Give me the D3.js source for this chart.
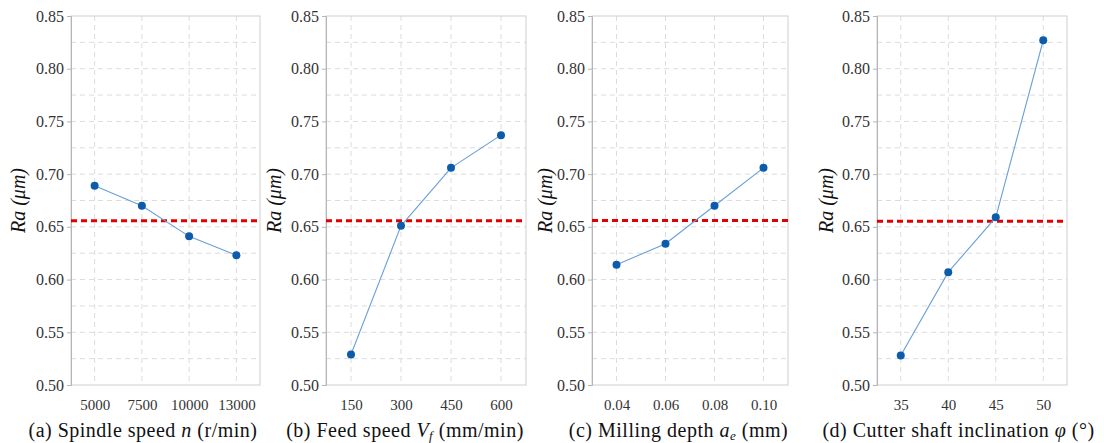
<!DOCTYPE html>
<html>
<head>
<meta charset="utf-8">
<script src="https://cdn.jsdelivr.net/npm/d3@7"></script>
<style>
  html, body { margin: 0; padding: 0; background: #fff; }
  svg text { font-family: "Liberation Serif", Tinos, "Times New Roman", Times, "DejaVu Serif", "Noto Serif", serif !important; }
</style>
</head>
<body>
<svg id="chart" width="1104" height="443"></svg>
<script>
// ---- data ----
const spindleLevels = ["5000", "7500", "10000", "13000"];
const spindleRa = [0.689, 0.670, 0.641, 0.623];

const feedLevels = ["150", "300", "450", "600"];
const feedRa = [0.529, 0.651, 0.706, 0.737];

const depthLevels = ["0.04", "0.06", "0.08", "0.10"];
const depthRa = [0.614, 0.634, 0.670, 0.706];

const inclinationLevels = ["35", "40", "45", "50"];
const inclinationRa = [0.528, 0.607, 0.659, 0.827];

const yTickValues = [0.50, 0.55, 0.60, 0.65, 0.70, 0.75, 0.80, 0.85];
const yGridValues = [0.50, 0.525, 0.55, 0.575, 0.60, 0.625, 0.65, 0.675, 0.70, 0.725, 0.75, 0.775, 0.80, 0.825, 0.85];

const panels = [
  { levels: spindleLevels, values: spindleRa, left: 71, right: 260, labelX: 18, capX: 143,
    caption: [["(a) Spindle speed ", ""], ["n", "i"], [" (r/min)", ""]] },
  { levels: feedLevels, values: feedRa, left: 326, right: 526, labelX: 274, capX: 405,
    caption: [["(b) Feed speed ", ""], ["V", "i"], ["f", "sub"], [" (mm/min)", "after"]] },
  { levels: depthLevels, values: depthRa, left: 592, right: 788, labelX: 545, capX: 678.5,
    caption: [["(c) Milling depth ", ""], ["a", "i"], ["e", "sub"], [" (mm)", "after"]] },
  { levels: inclinationLevels, values: inclinationRa, left: 877, right: 1067, labelX: 826, capX: 958.5,
    caption: [["(d) Cutter shaft inclination ", ""], ["φ", "i"], [" (°)", ""]] }
];

const plotTop = 16, plotBottom = 385;
const svg = d3.select("#chart");

panels.forEach(p => {
  const x = d3.scalePoint().domain(p.levels).range([p.left, p.right]).padding(0.5);
  const y = d3.scaleLinear().domain([0.50, 0.85]).range([plotBottom, plotTop]);
  const g = svg.append("g");

  // horizontal grid
  g.append("g").selectAll("line").data(yGridValues.slice(1, -1)).join("line")
    .attr("x1", p.left).attr("x2", p.right)
    .attr("y1", d => y(d)).attr("y2", d => y(d))
    .attr("stroke", "#dcdcdc").attr("stroke-width", 1).attr("stroke-dasharray", "5,4");
  // vertical grid
  g.append("g").selectAll("line").data(p.levels).join("line")
    .attr("x1", d => x(d)).attr("x2", d => x(d))
    .attr("y1", plotTop).attr("y2", plotBottom)
    .attr("stroke", "#dcdcdc").attr("stroke-width", 1).attr("stroke-dasharray", "5,4");

  // frame
  g.append("rect").attr("x", p.left).attr("y", plotTop)
    .attr("width", p.right - p.left).attr("height", plotBottom - plotTop)
    .attr("fill", "none").attr("stroke", "#cfcfcf").attr("stroke-width", 1);

  // y axis
  const yAxis = d3.axisLeft(y).tickValues(yTickValues).tickFormat(d3.format(".2f")).tickSize(4).tickPadding(3);
  const ya = g.append("g").attr("transform", `translate(${p.left},0)`).call(yAxis);
  ya.select(".domain").attr("stroke", "#b5b5b5");
  ya.selectAll(".tick line").attr("stroke", "#b5b5b5");
  ya.selectAll(".tick text").attr("font-size", 16).attr("fill", "#333");

  // x axis
  const xAxis = d3.axisBottom(x).tickSize(0).tickPadding(14);
  const xa = g.append("g").attr("transform", `translate(0,${plotBottom})`).call(xAxis);
  xa.select(".domain").remove();
  xa.selectAll(".tick text").attr("font-size", 15).attr("fill", "#333");

  // grand mean line
  const mean = d3.mean(p.values);
  g.append("line").attr("x1", p.left).attr("x2", p.right)
    .attr("y1", y(mean)).attr("y2", y(mean))
    .attr("stroke", "#e00000").attr("stroke-width", 3).attr("stroke-dasharray", "6,4");

  // data line
  const pts = p.levels.map((l, i) => [l, p.values[i]]);
  g.append("path").datum(pts)
    .attr("d", d3.line().x(d => x(d[0])).y(d => y(d[1])))
    .attr("fill", "none").attr("stroke", "#6a9fd8").attr("stroke-width", 1.1);
  g.append("g").selectAll("circle").data(pts).join("circle")
    .attr("cx", d => x(d[0])).attr("cy", d => y(d[1])).attr("r", 4)
    .attr("fill", "#0d5bab");

  // y label
  g.append("text")
    .attr("transform", `translate(${p.labelX},${(plotTop + plotBottom) / 2}) rotate(-90)`)
    .attr("text-anchor", "middle").attr("dy", "0.35em")
    .attr("font-size", 20).attr("font-style", "italic").attr("fill", "#111")
    .text("Ra (μm)");

  // caption
  const cap = g.append("text").attr("x", p.capX).attr("y", 437)
    .attr("text-anchor", "middle").attr("font-size", 20).attr("letter-spacing", 0.5).attr("fill", "#111");
  p.caption.forEach(([t, s]) => {
    const ts = cap.append("tspan").text(t);
    if (s === "i") ts.attr("font-style", "italic");
    if (s === "sub") ts.attr("font-style", "italic").attr("font-size", 13).attr("dy", 3);
    if (s === "after") ts.attr("dy", -3);
  });
});
</script>
</body>
</html>
